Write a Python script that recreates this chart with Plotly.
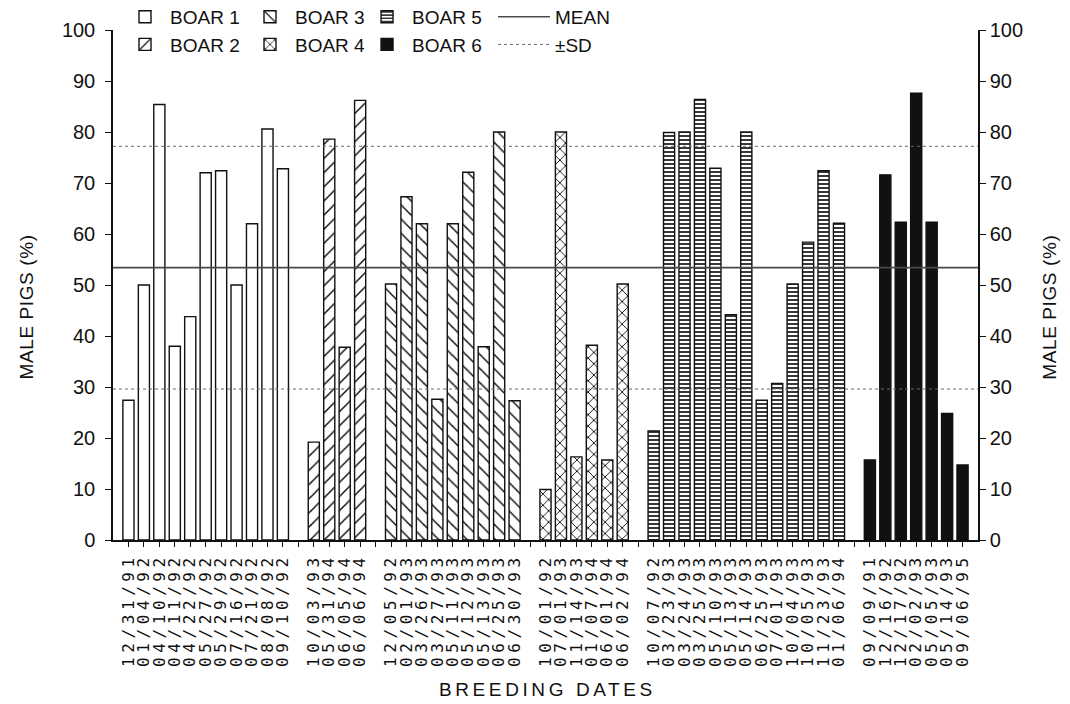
import plotly.graph_objects as go

# Breeding dates and percentage of male piglets per litter, one pair of lists per boar
boar_names = ["BOAR 1", "BOAR 2", "BOAR 3", "BOAR 4", "BOAR 5", "BOAR 6"]

boar1_dates = ["12/31/91", "01/04/92", "04/10/92", "04/11/92", "04/22/92", "05/27/92",
               "05/29/92", "07/16/92", "07/21/92", "08/08/92", "09/10/92"]
boar1_male = [27.4, 50.0, 85.4, 38.0, 43.8, 72.0, 72.4, 50.0, 62.0, 80.6, 72.8]

boar2_dates = ["10/03/93", "05/31/94", "06/05/94", "06/06/94"]
boar2_male = [19.2, 78.6, 37.8, 86.2]

boar3_dates = ["12/05/92", "02/01/93", "03/26/93", "03/27/93", "05/11/93", "05/12/93",
               "05/13/93", "06/25/93", "06/30/93"]
boar3_male = [50.2, 67.3, 62.0, 27.6, 62.0, 72.1, 37.9, 80.0, 27.3]

boar4_dates = ["10/01/92", "07/01/93", "11/14/93", "01/07/94", "06/01/94", "06/02/94"]
boar4_male = [9.9, 80.0, 16.3, 38.2, 15.7, 50.2]

boar5_dates = ["10/07/92", "03/23/93", "03/24/93", "03/25/93", "05/10/93", "05/13/93",
               "05/14/93", "06/25/93", "07/01/93", "10/04/93", "10/05/93", "11/23/93",
               "01/06/94"]
boar5_male = [21.4, 79.9, 80.0, 86.4, 72.9, 44.2, 80.0, 27.4, 30.7, 50.2, 58.4, 72.4, 62.1]

boar6_dates = ["09/09/91", "12/16/92", "12/17/92", "02/02/93", "05/05/93", "05/14/93",
               "09/06/95"]
boar6_male = [15.7, 71.6, 62.3, 87.6, 62.3, 24.8, 14.7]

MEAN_MALE = 53.4
SD_MALE = 23.8

y_ticks = list(range(0, 101, 10))

FONT = "Liberation Sans, Arial, sans-serif"
INK = "#111111"

# Fill style of each boar's bars
bar_styles = [
    dict(shape="", fg="white", bg="white", size=8, solidity=0.2),
    dict(shape="/", fg=INK, bg="white", size=10, solidity=0.15),
    dict(shape="\\", fg=INK, bg="white", size=10, solidity=0.15),
    dict(shape="x", fg=INK, bg="white", size=8, solidity=0.22),
    dict(shape="-", fg=INK, bg="white", size=4, solidity=0.42),
    dict(shape="", fg=INK, bg=INK, size=8, solidity=0.2),
]
# legend columns: (BOAR 1, BOAR 2), (BOAR 3, BOAR 4), (BOAR 5, BOAR 6), (MEAN, ±SD)
legend_of = ["legend", "legend", "legend2", "legend2", "legend3", "legend3"]

groups = [
    (boar1_dates, boar1_male),
    (boar2_dates, boar2_male),
    (boar3_dates, boar3_male),
    (boar4_dates, boar4_male),
    (boar5_dates, boar5_male),
    (boar6_dates, boar6_male),
]

fig = go.Figure()

tick_pos = []
tick_text = []
slot = 1
for i, (dates, vals) in enumerate(groups):
    xs = list(range(slot, slot + len(dates)))
    st = bar_styles[i]
    solid_black = i == 5
    fig.add_trace(go.Bar(
        x=xs, y=vals, width=0.72, name=boar_names[i],
        legend=legend_of[i], legendrank=i + 1,
        marker=dict(
            color=INK if solid_black else "white",
            line=dict(color=INK, width=1.4),
            pattern=dict(shape=st["shape"], fgcolor=st["fg"], bgcolor=st["bg"],
                         size=st["size"], solidity=st["solidity"], fillmode="replace"),
        ),
    ))
    tick_pos += xs
    tick_text += dates
    if i < len(groups) - 1:
        # one empty slot separates consecutive boars
        tick_pos.append(slot + len(dates))
        tick_text.append("")
    slot += len(dates) + 1

x_max = slot - 1

fig.add_trace(go.Scatter(
    x=[0, x_max], y=[MEAN_MALE, MEAN_MALE], mode="lines", name="MEAN",
    line=dict(color="#4a4a4a", width=1.6), legend="legend4", legendrank=1,
))
fig.add_trace(go.Scatter(
    x=[0, x_max, None, 0, x_max],
    y=[MEAN_MALE + SD_MALE, MEAN_MALE + SD_MALE, None,
       MEAN_MALE - SD_MALE, MEAN_MALE - SD_MALE],
    mode="lines", name="±SD",
    line=dict(color="#6a6a6a", width=1, dash="dot"), legend="legend4", legendrank=2,
))

# invisible trace so the right-hand axis is drawn
fig.add_trace(go.Scatter(x=[0], y=[0], yaxis="y2", mode="markers",
                         marker=dict(opacity=0), showlegend=False, hoverinfo="skip"))

spaced_ticks = ['<span style="letter-spacing:4.6px">%s</span>' % t if t else "" for t in tick_text]

axis_font = dict(family=FONT, size=20, color=INK)
legend_font = dict(family=FONT, size=19, color=INK)


def column_legend(x, itemwidth=40):
    return dict(
        orientation="v", x=x, xanchor="left", y=1.063, yanchor="top",
        itemwidth=itemwidth, font=legend_font, bgcolor="rgba(0,0,0,0)",
        traceorder="normal", tracegroupgap=0,
    )


y_title_font = dict(family=FONT, size=19, color=INK)
y_title = '<span style="letter-spacing:0.6px">MALE PIGS (%)</span>'

fig.update_layout(
    width=1070, height=704,
    margin=dict(l=113, r=92, t=30, b=164, autoexpand=False),
    paper_bgcolor="white", plot_bgcolor="white",
    barmode="overlay",
    showlegend=True,
    font=dict(family=FONT, color=INK),
    xaxis=dict(
        range=[0, x_max], tickmode="array", tickvals=tick_pos, ticktext=spaced_ticks,
        tickangle=-90, ticks="outside", ticklen=5, tickwidth=1.2, tickcolor=INK,
        tickfont=dict(family="DejaVu Sans Mono, monospace", size=16, color=INK),
        showline=True, linecolor=INK, linewidth=1.5, showgrid=False, zeroline=False,
    ),
    yaxis=dict(
        range=[0, 100], tickvals=y_ticks, ticks="outside", ticklen=6, tickwidth=1.2,
        tickcolor=INK, tickfont=axis_font, showline=True, linecolor=INK, linewidth=1.5,
        showgrid=False, zeroline=False, ticklabelstandoff=6,
    ),
    yaxis2=dict(
        range=[0, 100], tickvals=y_ticks, ticks="outside", ticklen=6, tickwidth=1.2,
        tickcolor=INK, tickfont=axis_font, showline=True, linecolor=INK, linewidth=1.5,
        showgrid=False, zeroline=False, overlaying="y", side="right",
    ),
    legend=column_legend(0.0081),
    legend2=column_legend(0.1526),
    legend3=column_legend(0.2879),
    legend4=column_legend(0.4393, itemwidth=52),
    annotations=[
        dict(text=y_title, xref="paper", yref="paper", x=-0.1, y=0.457,
             xanchor="center", yanchor="middle",
             textangle=-90, showarrow=False, font=y_title_font),
        dict(text=y_title, xref="paper", yref="paper", x=1.083, y=0.457,
             xanchor="center", yanchor="middle",
             textangle=-90, showarrow=False, font=y_title_font),
        dict(text='<span style="letter-spacing:3.6px">BREEDING DATES</span>',
             xref="paper", yref="paper", x=0.502, y=-0.294,
             xanchor="center", yanchor="middle",
             showarrow=False, font=dict(family=FONT, size=19, color=INK)),
    ],
)

fig.write_html("out.html")
